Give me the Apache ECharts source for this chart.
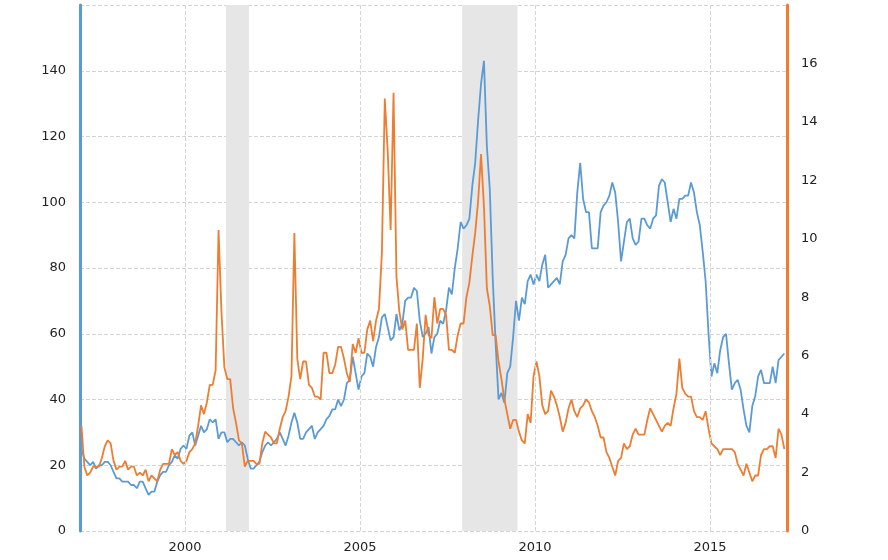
<!DOCTYPE html>
<html>
<head>
<meta charset="utf-8">
<script src="https://cdn.jsdelivr.net/npm/echarts@6/dist/echarts.min.js"></script>
<style>html,body{margin:0;padding:0;background:#fff}#chart{width:888px;height:560px}</style>
</head>
<body>
<div id="chart"></div>
<script>
// monthly values, Jan 1997 .. Feb 2017
var oil = [
  25,22,21,20,21,19,20,20,21,21,20,18,
  16,16,15,15,15,14,14,13,15,15,13,11,
  12,12,15,17,18,18,20,21,23,22,25,26,
  25,29,30,26,29,32,30,31,34,33,34,28,
  30,30,27,28,28,27,26,27,26,22,19,19,
  20,21,24,26,27,26,27,28,30,28,26,29,
  33,36,33,28,28,30,31,32,28,30,31,32,
  34,35,37,37,40,38,40,45,46,53,48,43,
  47,48,54,53,50,56,59,65,66,62,58,59,
  66,61,63,70,71,71,74,73,64,59,60,62,
  54,59,60,64,63,67,74,72,80,86,94,92,
  93,95,105,112,125,136,143,117,104,77,57,40,
  42,39,48,50,59,70,64,71,69,76,78,75,
  78,76,81,84,74,75,76,77,75,82,84,89,
  90,89,103,112,101,97,97,86,86,86,97,99,
  100,102,106,103,94,82,88,94,95,89,87,88,
  95,95,93,92,95,96,105,107,106,100,94,98,
  95,101,101,102,102,106,103,97,93,85,76,60,
  47,51,48,55,59,60,51,43,45,46,43,37,
  32,30,38,41,47,49,45,45,45,50,45,52,
  53,54
];
var gas = [
  3.6,2.2,1.9,2.0,2.2,2.2,2.2,2.5,2.9,3.1,3.0,2.4,
  2.1,2.2,2.2,2.4,2.1,2.2,2.2,1.9,2.0,1.9,2.1,1.7,
  1.9,1.8,1.7,2.1,2.3,2.3,2.3,2.8,2.6,2.7,2.4,2.3,
  2.4,2.7,2.8,3.0,3.6,4.3,4.0,4.4,5.0,5.0,5.5,10.3,
  7.5,5.6,5.2,5.2,4.2,3.7,3.1,3.0,2.2,2.4,2.4,2.4,
  2.3,2.3,3.0,3.4,3.3,3.2,3.0,3.0,3.5,3.9,4.1,4.6,
  5.3,10.2,5.9,5.2,5.8,5.8,5.0,4.9,4.6,4.6,4.5,6.1,
  6.1,5.4,5.4,5.7,6.3,6.3,5.9,5.4,5.1,6.4,6.1,6.6,
  6.1,6.1,6.9,7.2,6.5,7.2,7.6,9.5,14.8,13.0,10.3,15.0,
  8.7,7.5,6.9,7.2,6.2,6.2,6.2,7.1,4.9,5.9,7.4,6.7,
  6.6,8.0,7.1,7.6,7.6,7.4,6.2,6.2,6.1,6.7,7.1,7.1,
  8.0,8.5,9.4,10.2,11.3,12.9,11.1,8.3,7.7,6.7,6.7,5.8,
  5.2,4.5,4.0,3.5,3.8,3.8,3.4,3.1,3.0,4.0,3.7,5.3,
  5.8,5.3,4.3,4.0,4.1,4.8,4.6,4.3,3.9,3.4,3.7,4.2,
  4.5,4.1,3.9,4.2,4.3,4.5,4.4,4.1,3.9,3.6,3.2,3.2,
  2.7,2.5,2.2,1.9,2.4,2.5,3.0,2.8,2.9,3.3,3.5,3.3,
  3.3,3.3,3.8,4.2,4.0,3.8,3.6,3.4,3.6,3.7,3.6,4.2,
  4.7,5.9,4.9,4.7,4.6,4.6,4.1,3.9,3.9,3.8,4.1,3.5,
  3.0,2.9,2.8,2.6,2.8,2.8,2.8,2.8,2.7,2.3,2.1,1.9,
  2.3,2.0,1.7,1.9,1.9,2.6,2.8,2.8,2.9,2.9,2.5,3.5,
  3.3,2.8
];
var yearTicks = [2000, 2005, 2010, 2015];
var recessions = [[2001.17, 2001.83], [2007.92, 2009.5]];

// x position as decimal year (middle of each month)
var oilData = oil.map(function (v, i) { return [1997 + (i + 0.5) / 12, v]; });
var gasData = gas.map(function (v, i) { return [1997 + (i + 0.5) / 12, v]; });

var chart = echarts.init(document.getElementById('chart'));
chart.setOption({
  animation: false,
  textStyle: { fontFamily: 'DejaVu Sans' },
  grid: { left: 80, right: 101, top: 5, bottom: 29 },
  xAxis: {
    type: 'value', min: 1997, max: 2017.2,
    axisLine: { show: false }, axisTick: { show: false },
    axisLabel: { customValues: yearTicks, color: '#222', fontSize: 13, margin: 10, formatter: function (v) { return String(v); } },
    splitLine: { show: false }
  },
  yAxis: [{
    type: 'value', min: 0, max: 160, interval: 20,
    axisLine: { show: true, lineStyle: { color: '#5b9bd5', width: 3 } },
    axisTick: { show: false },
    axisLabel: { color: '#222', fontSize: 13, showMaxLabel: false, margin: 14 },
    splitLine: { lineStyle: { type: 'dashed', color: '#d4d4d4' } }
  }, {
    type: 'value', min: 0, max: 18, interval: 2,
    axisLine: { show: true, lineStyle: { color: '#ed7d31', width: 3 } },
    axisTick: { show: false },
    axisLabel: { color: '#222', fontSize: 13, showMaxLabel: false, margin: 14 },
    splitLine: { show: false }
  }],
  series: [{
    type: 'line', yAxisIndex: 0, data: oilData, showSymbol: false,
    lineStyle: { color: '#5b9bd5', width: 1.8 }, itemStyle: { color: '#5b9bd5' },
    markArea: {
      silent: true, itemStyle: { color: '#e6e6e6' },
      data: recessions.map(function (r) { return [{ xAxis: r[0] }, { xAxis: r[1] }]; })
    },
    markLine: {
      silent: true, symbol: 'none', label: { show: false },
      lineStyle: { type: 'dashed', color: '#d4d4d4', width: 1 },
      data: yearTicks.map(function (y) { return { xAxis: y }; })
    },
    z: 2
  }, {
    type: 'line', yAxisIndex: 1, data: gasData, showSymbol: false,
    lineStyle: { color: '#ed7d31', width: 1.8 }, itemStyle: { color: '#ed7d31' },
    z: 3
  }]
});
</script>
</body>
</html>
